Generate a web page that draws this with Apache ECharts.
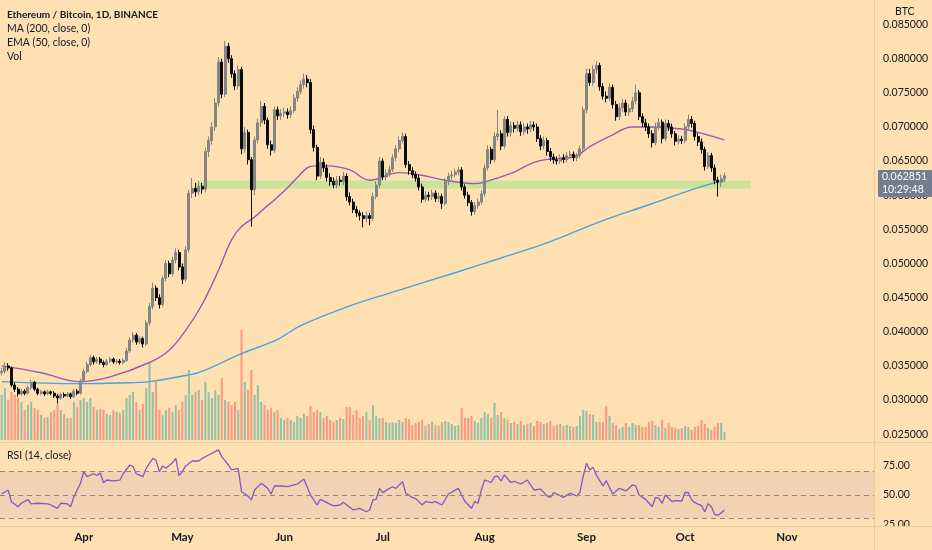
<!DOCTYPE html>
<html><head><meta charset="utf-8">
<script src="https://cdn.jsdelivr.net/npm/echarts@6/dist/echarts.min.js"></script>
<style>html,body{margin:0;padding:0;background:#ffe0b2}#c{width:932px;height:550px}</style>
</head><body><div id="c"></div>
<script>
// ---------- data ----------
const startDate = '2021-03-07';
const dayCount = 266;                 // Mar 7 .. Nov 27 (axis span)
const monthNames = ['Jan','Feb','Mar','Apr','May','Jun','Jul','Aug','Sep','Oct','Nov','Dec'];
const firstOpen = 0.0340;
const closes = [0.0342,0.0350,0.0347,0.0322,0.0316,0.0309,0.0313,0.0310,0.0318,0.0326,
0.0316,0.0310,0.0312,0.0309,0.0312,0.0310,0.0306,0.0303,0.0308,0.0306,
0.0309,0.0305,0.0313,0.0310,0.0328,0.0342,0.0352,0.0362,0.0356,0.0360,
0.0355,0.0352,0.0357,0.0360,0.0356,0.0357,0.0355,0.0358,0.0372,0.0388,
0.0395,0.0385,0.0390,0.0382,0.0413,0.0437,0.0464,0.0450,0.0440,0.0478,
0.0500,0.0485,0.0505,0.0516,0.0495,0.0477,0.0520,0.0603,0.0610,0.0605,
0.0613,0.0609,0.0664,0.0680,0.0700,0.0735,0.0795,0.0748,0.0818,0.0800,
0.0778,0.0760,0.0784,0.0668,0.0692,0.0652,0.0608,0.0681,0.0706,0.0730,
0.0710,0.0674,0.0666,0.0725,0.0716,0.0720,0.0722,0.0718,0.0724,0.0742,
0.0752,0.0762,0.0770,0.0765,0.0696,0.0670,0.0628,0.0648,0.0640,0.0626,
0.0620,0.0615,0.0622,0.0620,0.0628,0.0598,0.0590,0.0579,0.0574,0.0570,
0.0566,0.0570,0.0566,0.0598,0.0615,0.0650,0.0627,0.0632,0.0638,0.0655,
0.0668,0.0680,0.0686,0.0645,0.0636,0.0630,0.0625,0.0612,0.0594,0.0600,
0.0598,0.0603,0.0595,0.0598,0.0588,0.0620,0.0628,0.0630,0.0634,0.0637,
0.0612,0.0600,0.0589,0.0576,0.0585,0.0590,0.0602,0.0640,0.0667,0.0652,
0.0686,0.0690,0.0672,0.0711,0.0692,0.0702,0.0698,0.0703,0.0693,0.0700,
0.0697,0.0703,0.0700,0.0683,0.0672,0.0680,0.0664,0.0656,0.0652,0.0650,
0.0655,0.0652,0.0658,0.0660,0.0655,0.0658,0.0668,0.0725,0.0778,0.0765,
0.0784,0.0790,0.0759,0.0745,0.0742,0.0758,0.0733,0.0715,0.0728,0.0735,
0.0722,0.0727,0.0738,0.0750,0.0715,0.0706,0.0700,0.0690,0.0677,0.0700,
0.0707,0.0683,0.0705,0.0700,0.0690,0.0679,0.0682,0.0680,0.0700,0.0711,
0.0705,0.0686,0.0678,0.0667,0.0642,0.0658,0.0640,0.0622,0.0619,0.0624,
0.06285];
const highs = [0.0347,0.0355,0.0354,0.0349,0.0326,0.0319,0.0316,0.0316,0.0321,0.0330,
0.0328,0.0318,0.0315,0.0314,0.0315,0.0314,0.0313,0.0309,0.0311,0.0311,
0.0312,0.0311,0.0316,0.0316,0.0331,0.0346,0.0356,0.0366,0.0365,0.0363,
0.0363,0.0358,0.0360,0.0363,0.0362,0.0360,0.0360,0.0361,0.0376,0.0392,
0.0399,0.0398,0.0394,0.0393,0.0417,0.0442,0.0472,0.0468,0.0455,0.0482,
0.0505,0.0504,0.0510,0.0522,0.0520,0.0500,0.0525,0.0608,0.0625,0.0618,
0.0620,0.0618,0.0670,0.0686,0.0707,0.0742,0.0802,0.0800,0.0826,0.0823,
0.0805,0.0783,0.0790,0.0788,0.0700,0.0696,0.0656,0.0686,0.0712,0.0738,
0.0735,0.0714,0.0680,0.0730,0.0730,0.0726,0.0728,0.0727,0.0730,0.0748,
0.0758,0.0768,0.0778,0.0776,0.0770,0.0702,0.0674,0.0656,0.0654,0.0645,
0.0632,0.0626,0.0628,0.0628,0.0634,0.0632,0.0604,0.0595,0.0584,0.0578,
0.0575,0.0576,0.0574,0.0604,0.0620,0.0656,0.0654,0.0638,0.0643,0.0660,
0.0673,0.0686,0.0692,0.0690,0.0650,0.0641,0.0635,0.0630,0.0617,0.0606,
0.0605,0.0608,0.0607,0.0604,0.0602,0.0625,0.0633,0.0636,0.0639,0.0642,
0.0641,0.0616,0.0605,0.0593,0.0590,0.0595,0.0607,0.0645,0.0673,0.0671,
0.0692,0.0725,0.0695,0.0716,0.0716,0.0708,0.0707,0.0709,0.0708,0.0706,
0.0705,0.0709,0.0708,0.0705,0.0688,0.0686,0.0684,0.0669,0.0661,0.0657,
0.0660,0.0660,0.0663,0.0665,0.0664,0.0662,0.0673,0.0730,0.0785,0.0785,
0.0790,0.0796,0.0794,0.0764,0.0752,0.0764,0.0762,0.0738,0.0735,0.0741,
0.0740,0.0733,0.0744,0.0762,0.0754,0.0720,0.0712,0.0705,0.0695,0.0706,
0.0713,0.0711,0.0711,0.0710,0.0705,0.0694,0.0688,0.0687,0.0705,0.0718,
0.0716,0.0709,0.0691,0.0683,0.0671,0.0663,0.0662,0.0645,0.0627,0.0630,
0.0633];
const lows = [0.0336,0.0339,0.0343,0.0319,0.0312,0.0305,0.0306,0.0307,0.0308,0.0315,
0.0313,0.0307,0.0307,0.0306,0.0307,0.0307,0.0303,0.0295,0.0300,0.0303,
0.0304,0.0302,0.0303,0.0307,0.0308,0.0326,0.0339,0.0349,0.0352,0.0353,
0.0352,0.0348,0.0350,0.0354,0.0353,0.0353,0.0352,0.0352,0.0356,0.0369,
0.0384,0.0381,0.0382,0.0377,0.0379,0.0409,0.0433,0.0445,0.0434,0.0437,
0.0474,0.0480,0.0481,0.0500,0.0490,0.0470,0.0473,0.0516,0.0596,0.0598,
0.0600,0.0602,0.0604,0.0656,0.0674,0.0694,0.0730,0.0742,0.0744,0.0794,
0.0772,0.0754,0.0755,0.0660,0.0662,0.0645,0.0554,0.0600,0.0676,0.0700,
0.0704,0.0668,0.0658,0.0662,0.0710,0.0710,0.0714,0.0712,0.0713,0.0720,
0.0737,0.0747,0.0756,0.0758,0.0690,0.0664,0.0622,0.0624,0.0634,0.0620,
0.0614,0.0610,0.0610,0.0614,0.0615,0.0592,0.0585,0.0574,0.0568,0.0563,
0.0553,0.0560,0.0556,0.0562,0.0594,0.0610,0.0622,0.0622,0.0627,0.0634,
0.0650,0.0663,0.0676,0.0640,0.0630,0.0625,0.0620,0.0607,0.0589,0.0590,
0.0592,0.0593,0.0590,0.0590,0.0580,0.0585,0.0615,0.0623,0.0626,0.0629,
0.0607,0.0595,0.0584,0.0570,0.0572,0.0580,0.0586,0.0598,0.0636,0.0646,
0.0648,0.0680,0.0666,0.0668,0.0686,0.0686,0.0692,0.0693,0.0687,0.0688,
0.0690,0.0692,0.0694,0.0678,0.0666,0.0667,0.0658,0.0650,0.0646,0.0645,
0.0646,0.0647,0.0648,0.0653,0.0650,0.0650,0.0654,0.0664,0.0720,0.0760,
0.0760,0.0778,0.0753,0.0740,0.0736,0.0738,0.0727,0.0709,0.0710,0.0722,
0.0716,0.0716,0.0722,0.0733,0.0710,0.0700,0.0694,0.0684,0.0670,0.0673,
0.0695,0.0676,0.0679,0.0694,0.0684,0.0673,0.0674,0.0675,0.0676,0.0696,
0.0699,0.0680,0.0672,0.0661,0.0636,0.0638,0.0634,0.0616,0.0598,0.0612,
0.0619];
const volumes = [45,52,40,48,45,42,38,30,35,38,
32,30,25,22,23,28,30,36,30,26,
22,22,38,33,40,42,38,42,33,30,
31,30,26,25,30,28,27,30,42,45,
48,38,30,36,52,77,48,58,30,25,
30,32,28,35,30,38,45,70,45,48,
50,40,58,48,42,50,45,62,40,38,
35,38,30,110,58,50,70,45,55,38,
35,30,32,28,30,22,20,22,20,18,
24,22,26,24,34,28,30,28,22,24,
20,18,20,22,21,33,33,25,30,22,
24,28,20,35,24,22,22,18,17,18,
17,20,18,22,21,15,17,18,20,14,
16,18,15,14,18,19,18,16,14,15,
32,22,22,24,19,17,22,28,26,22,
37,25,28,22,20,17,18,16,19,15,
16,17,14,19,18,16,17,19,14,15,
16,14,15,14,13,14,24,30,29,26,
25,18,18,18,34,24,17,15,11,13,
17,13,17,15,15,13,13,18,19,15,
13,20,12,17,13,12,11,12,14,13,
10,13,14,20,16,12,10,13,17,17,
8];
const ema50Idx = [0,12,24,33,45,51,56,61,66,70,73,77,80,83,87,90,93,95,99,106,112,121,127,135,144,146,155,162,167,174,179,185,192,197,207,212,220];
const ema50Val = [0.0350,0.0340,0.0327,0.0334,0.0355,0.0373,0.0402,0.0440,0.0490,0.0535,0.0554,0.0568,0.0581,0.0593,0.0611,0.0626,0.0640,0.0643,0.0643,0.0637,0.0622,0.0633,0.0630,0.0622,0.0617,0.0618,0.0632,0.0648,0.0653,0.0656,0.0671,0.0686,0.0700,0.0700,0.0697,0.0692,0.0681];
const ma200Idx = [0,24,36,45,56,61,73,84,91,106,121,137,152,167,182,197,212,220];
const ma200Val = [0.0327,0.0324,0.0325,0.0327,0.0336,0.0342,0.0368,0.0389,0.0409,0.0438,0.0461,0.0485,0.0508,0.0532,0.0561,0.0586,0.0611,0.0622];
const rsiIdx = [0,2,3,5,6,8,9,11,14,15,17,18,20,21,22,24,25,26,28,29,30,31,32,34,36,37,39,40,41,43,44,46,47,48,49,50,52,53,54,55,56,58,60,61,63,65,66,67,69,70,72,73,75,76,77,79,81,82,83,85,87,89,90,92,94,96,97,99,101,103,104,107,109,111,112,113,114,115,116,118,119,120,122,123,125,126,128,129,131,132,134,136,139,141,143,144,145,146,147,149,150,151,152,153,155,156,158,160,162,164,166,167,168,171,173,175,176,177,178,179,180,181,183,184,186,188,190,192,193,194,196,198,199,200,201,202,204,205,207,208,209,210,211,213,214,215,216,217,218,219,220];
const rsiVal = [51,54,44,40,43,46,42.5,43,42.5,41.5,38.7,43,42.5,40,48.6,60,69.8,65.5,68,66.5,68.6,60.4,62.7,62,62.5,68,75.4,74,68,65.5,72.6,81,79.4,69.8,74.6,72.6,77.4,81,66.5,69.8,74.6,78.8,78.8,81,83.9,86.7,88.2,82.5,75.4,71.2,72.6,52.8,49,45.8,54.2,60,55.6,50.8,57.6,57.6,57,58.5,59.3,63.3,50,41.5,46.3,43.5,40.7,41.5,43.8,37.3,38.7,35.8,37.3,45.8,46.3,55.6,52,55.6,57,55.6,61.3,51.4,48,46.9,41.5,44.4,43.5,44.4,41.5,50.8,55.6,44.4,38.7,44.4,43,54.2,62.7,60.6,65.5,66,61.8,67,60.6,61.5,59.3,62.7,54.2,55,49.2,48,52,48,51.4,49.2,52,66,76.8,71.2,73.5,67,57.6,62.1,50.8,55.6,53.4,58.5,57.6,50,46.3,40,48,47.2,43,50,44.4,45.2,44.9,52.3,52,45.8,43.5,41,35.8,42.5,40,33.6,32.7,35,37.3];
const supportBand = [0.0610, 0.0621];       // green horizontal zone
const supportBandIdx = [59, 228];
const rsiLevels = [70, 50, 30];
const rsiLabels = [25, 50, 75];
const lastPrice = '0.062851';
const countdown = '10:29:48';

// ---------- build ----------
const dates = [];
{ const t0 = Date.parse(startDate + 'T00:00:00Z');
  for (let i = 0; i < dayCount; i++) dates.push(new Date(t0 + i * 86400000).toISOString().slice(0, 10)); }
const opens = closes.map((c, i) => i === 0 ? firstOpen : closes[i - 1]);
const candles = closes.map((c, i) => [opens[i], c, lows[i], highs[i]]);
const volData = volumes.map((v, i) => ({
  value: v,
  itemStyle: { color: closes[i] >= opens[i] ? 'rgba(38,166,154,0.5)' : 'rgba(239,83,80,0.5)' }
}));
const pairs = (idx, val) => idx.map((k, j) => [k, val[j]]);

const BG = '#ffe0b2', SEP = '#e9cc9f', TXT = '#131722';
const FONT = 'Lato, "Open Sans", sans-serif';
const L = -3, R = 58;

const chart = echarts.init(document.getElementById('c'), null, { renderer: 'canvas' });
const hiddenX = k => ({
  type: 'category', gridIndex: k, data: dates, boundaryGap: true,
  axisLine: { show: false }, axisTick: { show: false }, axisLabel: { show: false }, splitLine: { show: false }
});
chart.setOption({
  animation: false,
  backgroundColor: BG,
  textStyle: { fontFamily: FONT },
  grid: [
    { left: L, right: R, top: 24.5, height: 409.7 },
    { left: L, right: R, top: 300, height: 140 },
    { left: L, right: R, top: 442, height: 84 }
  ],
  xAxis: [hiddenX(0), hiddenX(1), Object.assign(hiddenX(2), {
    axisLabel: {
      show: true, margin: 5, color: TXT, fontSize: 11.5, fontWeight: 'bold', fontFamily: FONT,
      interval: (i, v) => v.slice(8) === '01',
      formatter: v => monthNames[parseInt(v.slice(5, 7), 10) - 1]
    }
  })],
  yAxis: [
    { type: 'value', gridIndex: 0, position: 'right', min: 0.025, max: 0.085, interval: 0.005,
      axisLine: { show: false }, axisTick: { show: false }, splitLine: { show: false },
      axisLabel: { margin: 9, color: TXT, fontSize: 10.5, fontFamily: FONT, formatter: v => v.toFixed(6) } },
    { type: 'value', gridIndex: 1, min: 0, max: 140, show: false, splitLine: { show: false } },
    { type: 'value', gridIndex: 2, position: 'right', min: 23.7, max: 94.9,
      axisLine: { show: false }, axisTick: { show: false }, splitLine: { show: false },
      axisLabel: { margin: 9, color: TXT, fontSize: 10.5, fontFamily: FONT, customValues: rsiLabels,
        formatter: v => v.toFixed(2) } }
  ],
  series: [
    { type: 'bar', name: 'Vol', xAxisIndex: 1, yAxisIndex: 1, data: volData, barWidth: '62%', z: 1, silent: true },
    { type: 'line', name: 'MA200', xAxisIndex: 0, yAxisIndex: 0, data: pairs(ma200Idx, ma200Val),
      smooth: 0.4, symbol: 'none', lineStyle: { color: '#47a3dd', width: 1.4 }, z: 2, silent: true,
      markArea: { silent: true, itemStyle: { color: 'rgba(196,226,150,0.9)' },
        data: [[{ xAxis: dates[supportBandIdx[0]], yAxis: supportBand[0] }, { xAxis: dates[supportBandIdx[1]], yAxis: supportBand[1] }]] } },
    { type: 'line', name: 'EMA50', xAxisIndex: 0, yAxisIndex: 0, data: pairs(ema50Idx, ema50Val),
      smooth: 0.4, symbol: 'none', lineStyle: { color: '#9b58b6', width: 1.4 }, z: 3, silent: true },
    { type: 'candlestick', name: 'ETHBTC', xAxisIndex: 0, yAxisIndex: 0, data: candles, barWidth: '72%', z: 4,
      itemStyle: { color: '#858585', color0: '#0c0c0c', borderColor: '#858585', borderColor0: '#0c0c0c', borderWidth: 1 } },
    { type: 'line', name: 'RSI', xAxisIndex: 2, yAxisIndex: 2, data: pairs(rsiIdx, rsiVal),
      symbol: 'none', lineStyle: { color: '#8159c6', width: 1.3 }, z: 3, silent: true,
      markArea: { silent: true, itemStyle: { color: 'rgba(126,87,194,0.1)' }, data: [[{ yAxis: rsiLevels[2] }, { yAxis: rsiLevels[0] }]] },
      markLine: { silent: true, symbol: 'none', label: { show: false },
        lineStyle: { color: '#8d8780', type: [5, 4], width: 1 },
        data: rsiLevels.map(v => ({ yAxis: v })) } }
  ],
  graphic: [
    { type: 'line', z: 50, shape: { x1: 874.5, y1: 0, x2: 874.5, y2: 550 }, style: { stroke: SEP, lineWidth: 1 } },
    { type: 'line', z: 50, shape: { x1: 0, y1: 442.5, x2: 932, y2: 442.5 }, style: { stroke: SEP, lineWidth: 1 } },
    { type: 'line', z: 50, shape: { x1: 0, y1: 526.5, x2: 932, y2: 526.5 }, style: { stroke: SEP, lineWidth: 1 } },
    { type: 'rect', z: 49, shape: { x: 875, y: 527, width: 57, height: 23 }, style: { fill: BG } },
    { type: 'text', z: 60, left: 7, top: 9.5, style: { text: 'Ethereum / Bitcoin, 1D, BINANCE', font: 'bold 10px ' + FONT, fill: TXT } },
    { type: 'text', z: 60, left: 7, top: 23, style: { text: 'MA (200, close, 0)', font: '10.5px ' + FONT, fill: TXT } },
    { type: 'text', z: 60, left: 7, top: 37, style: { text: 'EMA (50, close, 0)', font: '10.5px ' + FONT, fill: TXT } },
    { type: 'text', z: 60, left: 7, top: 51, style: { text: 'Vol', font: '10.5px ' + FONT, fill: TXT } },
    { type: 'text', z: 60, left: 7, top: 450, style: { text: 'RSI (14, close)', font: '10.5px ' + FONT, fill: TXT } },
    { type: 'text', z: 60, left: 895, top: 6, style: { text: 'BTC', font: '10.5px ' + FONT, fill: TXT } },
    { type: 'rect', z: 70, shape: { x: 878, y: 170, width: 54, height: 27, r: 1 }, style: { fill: '#727d8f' } },
    { type: 'text', z: 71, left: 882, top: 171, style: { text: lastPrice, font: '10.5px ' + FONT, fill: '#ffffff' } },
    { type: 'text', z: 71, left: 882, top: 184, style: { text: countdown, font: '10.5px ' + FONT, fill: '#ffffff' } }
  ]
});
</script></body></html>
